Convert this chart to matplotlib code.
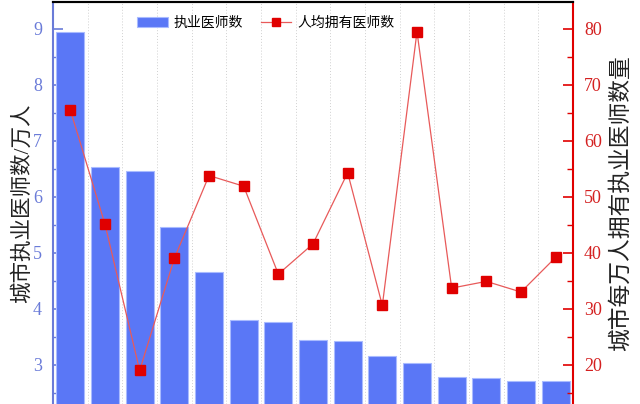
import numpy as np
import matplotlib.pyplot as plt
from matplotlib.ticker import MultipleLocator

# values (sorted by doctor count)
doctors = [8.94, 6.53, 6.46, 5.46, 4.66, 3.80, 3.77, 3.45, 3.42, 3.16,
           3.04, 2.78, 2.76, 2.71, 2.71]          # 万人
per_10k = [65.5, 45.1, 19.0, 39.0, 53.8, 51.9, 36.2, 41.6, 54.3, 30.6,
           79.5, 33.7, 34.9, 33.0, 39.2]           # 每万人
bar_label = "执业医师数"
line_label = "人均拥有医师数"
left_title = "城市执业医师数/万人"
right_title = "城市每万人拥有执业医师数量"

fonts = ['Liberation Serif', 'Noto Sans CJK SC', 'DejaVu Sans']
plt.rcParams['font.family'] = fonts

blue = '#5a77f6'
axis_blue = '#6a7bd8'
red = '#e00000'

x = np.arange(len(doctors))

fig = plt.figure(figsize=(6.4, 4.04), dpi=100)
ax = fig.add_axes([53 / 640, 0.0, 520 / 640, 1 - 2 / 404])
ax2 = ax.twinx()

# dotted separators between categories
for b in np.arange(0.5, len(doctors) - 1, 1):
    ax.axvline(b, color='#d0d0d0', lw=0.7, ls=(0, (1, 2)), zorder=0)

bars = ax.bar(x, doctors, width=0.8, color=blue, edgecolor='#a9bbff',
              linewidth=0.8, label=bar_label, zorder=2)
line, = ax2.plot(x, per_10k, color='#e85a5a', lw=0.9, marker='s',
                 markersize=6.5, markerfacecolor=red, markeredgecolor=red,
                 label=line_label, zorder=3)

ax.set_xlim(-0.5, len(doctors) - 0.5)
ax.set_ylim(2.3, 9.48)
ax2.set_ylim(13.0, 84.8)
ax.set_xticks([])

ax.yaxis.set_major_locator(MultipleLocator(1))
ax.yaxis.set_minor_locator(MultipleLocator(0.5))
ax2.yaxis.set_major_locator(MultipleLocator(10))
ax2.yaxis.set_minor_locator(MultipleLocator(5))

ax.tick_params(axis='y', which='major', direction='in', length=7, width=1.2,
               color=axis_blue, labelcolor=axis_blue, labelsize=13, pad=8)
ax.tick_params(axis='y', which='minor', direction='in', length=4, width=1.0,
               color=axis_blue)
ax2.tick_params(axis='y', which='major', direction='in', length=7, width=1.2,
                color=red, labelcolor='#d42020', labelsize=13, pad=8)
ax2.tick_params(axis='y', which='minor', direction='in', length=4, width=1.0,
                color=red)

for a in (ax, ax2):
    a.spines['top'].set_color('black')
    a.spines['top'].set_linewidth(1.5)
    a.spines['bottom'].set_visible(False)
ax.spines['left'].set_color(axis_blue)
ax.spines['left'].set_linewidth(1.5)
ax2.spines['left'].set_visible(False)
ax2.spines['right'].set_color(red)
ax2.spines['right'].set_linewidth(1.5)
ax.spines['right'].set_visible(False)

ax.set_ylabel(left_title, fontsize=15.5, color='#222222', labelpad=0)
ax2.set_ylabel(right_title, fontsize=16.4, color='#222222', labelpad=6)

ax.legend([bars, line], [bar_label, line_label], loc='upper left',
          bbox_to_anchor=(0.138, 0.995), ncol=2, frameon=False, fontsize=10,
          handlelength=2.2, columnspacing=1.3, handletextpad=0.4,
          markerscale=0.85)

fig.savefig('out.png', dpi=100)
